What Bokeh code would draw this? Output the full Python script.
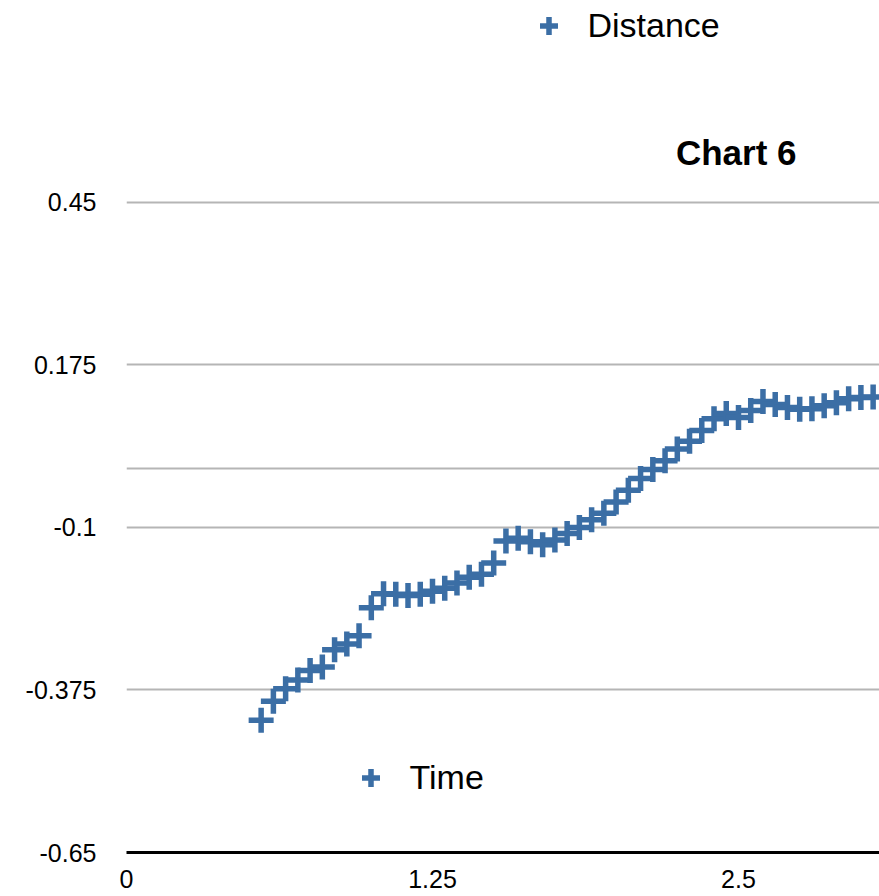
from bokeh.plotting import figure
from bokeh.models import FixedTicker, Label, Legend, LegendItem, Range1d
from bokeh.core.properties import value
from bokeh.embed import file_html
from bokeh.resources import INLINE

# ---- data ----
time_s = [0.55, 0.60, 0.65, 0.70, 0.75, 0.80, 0.85, 0.90, 0.95, 1.00,
          1.05, 1.10, 1.15, 1.20, 1.25, 1.30, 1.35, 1.40, 1.45, 1.50,
          1.55, 1.60, 1.65, 1.70, 1.75, 1.80, 1.85, 1.90, 1.95, 2.00,
          2.05, 2.10, 2.15, 2.20, 2.25, 2.30, 2.35, 2.40, 2.45, 2.50,
          2.55, 2.60, 2.65, 2.70, 2.75, 2.80, 2.85, 2.90, 2.95, 3.00,
          3.05]
distance = [-0.426, -0.394, -0.373, -0.358, -0.342, -0.336, -0.307, -0.297, -0.283, -0.236,
            -0.212, -0.213, -0.215, -0.213, -0.208, -0.203, -0.194, -0.184, -0.179, -0.160,
            -0.123, -0.118, -0.124, -0.129, -0.121, -0.110, -0.100, -0.087, -0.076, -0.057,
            -0.037, -0.017, -0.002, 0.013, 0.033, 0.046, 0.064, 0.084, 0.093, 0.086,
            0.098, 0.113, 0.108, 0.103, 0.100, 0.101, 0.106, 0.111, 0.118, 0.120,
            0.121]

y_tick_values = [0.45, 0.175, -0.1, -0.375, -0.65]
y_tick_labels = ["0.45", "0.175", "-0.1", "-0.375", "-0.65"]
y_grid_values = [0.45, 0.175, 0.0, -0.1, -0.375]
x_tick_values = [0, 1.25, 2.5]
x_tick_labels = ["0", "1.25", "2.5"]

series_name = "Distance"
x_name = "Time"
title_text = "Chart 6"

FONT = "Liberation Sans"
COLOR = "#3b6ea5"

p = figure(width=879, height=896, output_backend="svg", toolbar_location=None,
           x_range=Range1d(0, 3.076), y_range=Range1d(-0.65, 0.7918),
           min_border_left=126, min_border_right=0, min_border_top=0,
           min_border_bottom=44, background_fill_color="white",
           border_fill_color="white")
p.outline_line_color = None

# axes
p.xaxis.ticker = FixedTicker(ticks=x_tick_values)
p.xaxis.major_label_overrides = dict(zip(x_tick_values, x_tick_labels))
p.xaxis.axis_line_color = "black"
p.xaxis.axis_line_width = 3
p.xaxis.major_tick_in = 0
p.xaxis.major_tick_out = 0
p.xaxis.minor_tick_in = 0
p.xaxis.minor_tick_out = 0
p.xaxis.major_label_standoff = 17
p.xaxis.major_label_text_font = FONT
p.xaxis.major_label_text_font_size = "25px"
p.xaxis.major_label_text_color = "black"

p.yaxis.ticker = FixedTicker(ticks=y_tick_values)
p.yaxis.major_label_overrides = dict(zip(y_tick_values, y_tick_labels))
p.yaxis.axis_line_color = None
p.yaxis.major_tick_in = 0
p.yaxis.major_tick_out = 0
p.yaxis.minor_tick_in = 0
p.yaxis.minor_tick_out = 0
p.yaxis.major_label_standoff = 30
p.yaxis.major_label_text_font = FONT
p.yaxis.major_label_text_font_size = "25px"
p.yaxis.major_label_text_color = "black"

p.xgrid.visible = False
p.ygrid.ticker = FixedTicker(ticks=y_grid_values)
p.ygrid.grid_line_color = "#b5b5b5"
p.ygrid.grid_line_width = 2

r = p.scatter(time_s, distance, marker="cross", size=25, line_width=5.5,
              color=COLOR)

def make_legend(label, loc):
    return Legend(items=[LegendItem(label=value(label), renderers=[r])],
                  location=loc, border_line_color=None,
                  background_fill_alpha=0, padding=0, margin=0, spacing=0,
                  glyph_width=45, glyph_height=45, label_height=45,
                  label_standoff=17, label_text_font=FONT,
                  label_text_font_size="34px", label_text_color="black")

p.add_layout(make_legend(series_name, (399.5, 804.5)))
p.add_layout(make_legend(x_name, (221.5, 52.5)))

p.add_layout(Label(x=670, y=700, x_units="screen", y_units="screen",
                   text=title_text, text_font=FONT, text_font_size="35px",
                   text_font_style="bold", text_align="right",
                   text_baseline="middle", text_color="black"))

open("out.html", "w").write(file_html(p, INLINE))
